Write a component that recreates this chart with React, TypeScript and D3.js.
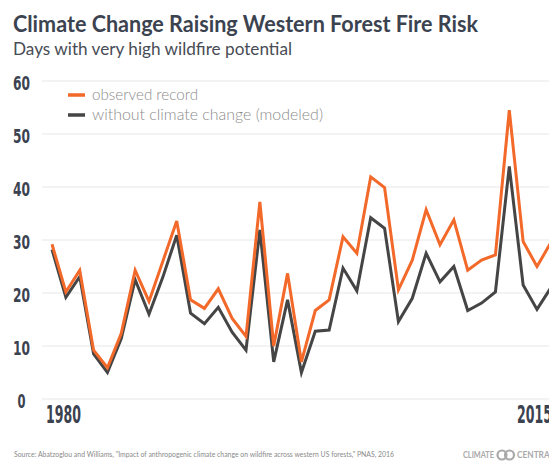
import React from "react";
import * as d3 from "d3";

// Annual count of days with very high wildfire potential, western US forests
const years = [
  1980, 1981, 1982, 1983, 1984, 1985, 1986, 1987, 1988, 1989, 1990, 1991, 1992,
  1993, 1994, 1995, 1996, 1997, 1998, 1999, 2000, 2001, 2002, 2003, 2004, 2005,
  2006, 2007, 2008, 2009, 2010, 2011, 2012, 2013, 2014, 2015, 2016,
];
const observed = [
  29.2, 20.2, 24.3, 9.2, 5.9, 12.4, 24.3, 18.4, 26, 33.6, 18.7, 17.1, 20.8,
  15.2, 11.8, 37.2, 10.0, 23.7, 7.0, 16.7, 18.7, 30.6, 27.5, 41.9, 39.9, 20.6,
  26.2, 35.7, 29.1, 33.8, 24.3, 26.2, 27.2, 54.5, 29.7, 25.0, 29.5,
];
const modeled = [
  28.2, 19.2, 23.1, 8.5, 5.0, 11.4, 22.5, 16.0, 23, 30.9, 16.2, 14.2, 17.3,
  12.6, 9.2, 31.9, 7.0, 18.7, 5.0, 12.8, 13.0, 24.7, 20.4, 34.2, 32.2, 14.6,
  19.0, 27.5, 22.1, 25.0, 16.7, 18.1, 20.2, 43.9, 21.5, 16.9, 21.0,
];
const yTicks = [0, 10, 20, 30, 40, 50, 60];
const xTickYears = [1980, 2015];
const legendItems = ["observed record", "without climate change (modeled)"];

const W = 549;
const H = 462;
const ORANGE = "#f2692a";
const DARK = "#454545";
const AXIS_TEXT = "#3b4250";

export default function App() {
  const x = d3.scaleLinear().domain([1980, 2015]).range([52, 537]);
  const y = d3.scaleLinear().domain([0, 60]).range([399, 81]);

  const line = d3
    .line<number>()
    .x((_, i) => x(years[i]))
    .y((d) => y(d));

  const condensed = "'Liberation Sans Narrow', 'DejaVu Sans Condensed', sans-serif";
  const sans = "Lato, 'Open Sans', sans-serif";

  return (
    <svg
      width={W}
      height={H}
      viewBox={`0 0 ${W} ${H}`}
      style={{ position: "fixed", left: 0, top: 0, background: "#fff" }}
    >
      <rect width={W} height={H} fill="#fff" />

      {/* title block */}
      <text x={13} y={32} fontFamily={sans} fontWeight={700} fontSize={23}
        fill="#3c4350" textLength={465} lengthAdjust="spacingAndGlyphs">
        Climate Change Raising Western Forest Fire Risk
      </text>
      <text x={13} y={55} fontFamily={sans} fontWeight={400} fontSize={17}
        fill="#474c55" textLength={279} lengthAdjust="spacingAndGlyphs">
        Days with very high wildfire potential
      </text>

      {/* horizontal grid and y labels */}
      {yTicks.map((t) => (
        <g key={t}>
          <line x1={42} x2={W} y1={y(t)} y2={y(t)} stroke="#e8e8e8" strokeWidth={1.2} />
          <text
            x={21.5}
            y={y(t) + 8.5}
            textAnchor="middle"
            fontFamily={condensed}
            fontWeight={700}
            fontSize={19}
            fill={AXIS_TEXT}
            textLength={String(t).length > 1 ? 17 : 8}
            lengthAdjust="spacingAndGlyphs"
          >
            {t}
          </text>
        </g>
      ))}

      {/* x labels */}
      {xTickYears.map((yr, i) => (
        <text
          key={yr}
          x={i === 0 ? x(yr) - 6 : x(yr) - 20}
          y={423}
          textAnchor="start"
          fontFamily={condensed}
          fontWeight={700}
          fontSize={24}
          fill={AXIS_TEXT}
          textLength={35}
          lengthAdjust="spacingAndGlyphs"
        >
          {yr}
        </text>
      ))}

      {/* series */}
      <path d={line(modeled) ?? ""} fill="none" stroke={DARK} strokeWidth={3} strokeLinejoin="miter" />
      <path d={line(observed) ?? ""} fill="none" stroke={ORANGE} strokeWidth={3} strokeLinejoin="miter" />

      {/* legend */}
      {legendItems.map((label, i) => (
        <g key={label} transform={`translate(0, ${95 + i * 20})`}>
          <line x1={68} x2={85} y1={0} y2={0} stroke={i === 0 ? ORANGE : DARK} strokeWidth={3.5} />
          <text x={92} y={5} fontFamily={sans} fontWeight={300} fontSize={16} fill="#8c8c8c"
            textLength={i === 0 ? 106 : 231} lengthAdjust="spacingAndGlyphs">
            {label}
          </text>
        </g>
      ))}

      {/* footer */}
      <text x={14} y={457} fontFamily={sans} fontSize={7.5} fill="#8a8a8a"
        textLength={380} lengthAdjust="spacingAndGlyphs">
        Source: Abatzoglou and Williams, "Impact of anthropogenic climate change on wildfire across western US forests," PNAS, 2016
      </text>
      <g fill="#a9a9a9" fontFamily={sans} fontWeight={700} fontSize={8.5}>
        <text x={463} y={458} textLength={31} lengthAdjust="spacingAndGlyphs">CLIMATE</text>
        <circle cx={502} cy={455} r={4.5} fill="none" stroke="#a9a9a9" strokeWidth={2.2} />
        <circle cx={509.5} cy={455} r={4.5} fill="none" stroke="#a9a9a9" strokeWidth={2.2} />
        <text x={517} y={458} textLength={37} lengthAdjust="spacingAndGlyphs">CENTRAL</text>
      </g>
    </svg>
  );
}
